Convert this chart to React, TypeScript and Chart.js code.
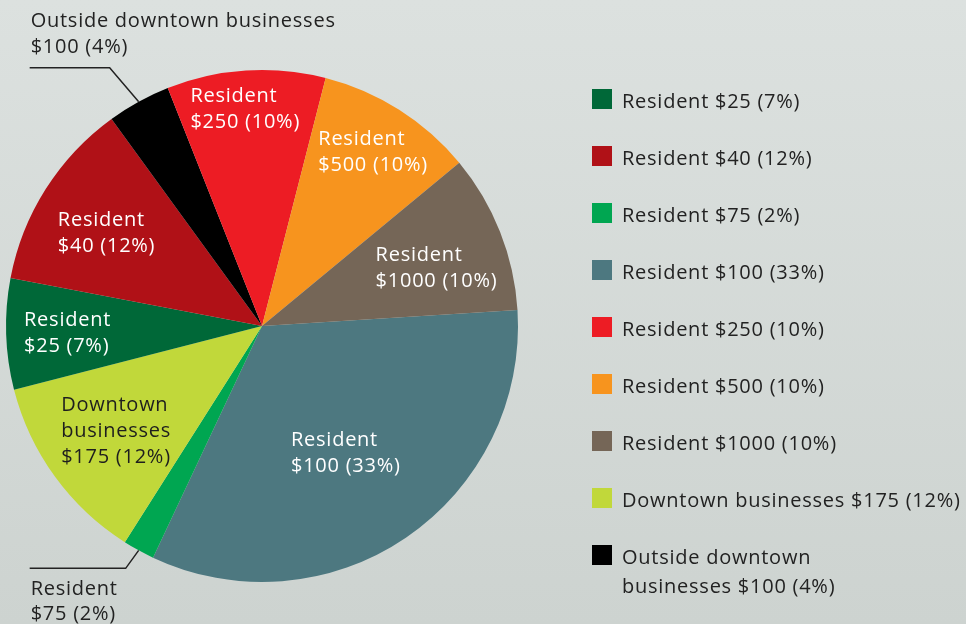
import React, { useEffect, useRef } from "react";
import { Chart, registerables } from "chart.js";

Chart.register(...registerables);

// Data in clockwise pie order (starting just above 3 o'clock)
const categories = [
  "Resident $100",
  "Resident $75",
  "Downtown businesses $175",
  "Resident $25",
  "Resident $40",
  "Outside downtown businesses $100",
  "Resident $250",
  "Resident $500",
  "Resident $1000",
];
const shares = [33, 2, 12, 7, 12, 4, 10, 10, 10];
const colors = [
  "#4d7880",
  "#00a651",
  "#c1d83a",
  "#006838",
  "#b01117",
  "#000000",
  "#ed1c24",
  "#f7941e",
  "#756657",
];
const sliceLabelLines = [
  ["Resident", "$100 (33%)"],
  ["Resident", "$75 (2%)"],
  ["Downtown", "businesses", "$175 (12%)"],
  ["Resident", "$25 (7%)"],
  ["Resident", "$40 (12%)"],
  ["Outside downtown businesses", "$100 (4%)"],
  ["Resident", "$250 (10%)"],
  ["Resident", "$500 (10%)"],
  ["Resident", "$1000 (10%)"],
];
// Legend order (indices into the arrays above)
const legendOrder = [3, 4, 1, 0, 6, 7, 8, 2, 5];
const legendLines = [
  ["Resident $100 (33%)"],
  ["Resident $75 (2%)"],
  ["Downtown businesses $175 (12%)"],
  ["Resident $25 (7%)"],
  ["Resident $40 (12%)"],
  ["Outside downtown", "businesses $100 (4%)"],
  ["Resident $250 (10%)"],
  ["Resident $500 (10%)"],
  ["Resident $1000 (10%)"],
];

// Label styling / placement (not data)
const FONT = '20px "Open Sans", sans-serif';
const LETTER = "0.75px";
const labelRadiusFrac = [0.59, 0, 0.7, 0.76, 0.71, 0, 0.855, 0.81, 0.72];
const labelAngleShift = [0.5, 0, 0.5, 0, -1.2, 0, -0.8, 0, 2.8];
const labelColor = ["#fff", "#222", "#1e1e1e", "#fff", "#fff", "#222", "#fff", "#fff", "#fff"];
// Outside callouts: elbow offset from slice edge, horizontal length, text baselines relative to elbow
const callouts: Record<number, { ex: number; ey: number; len: number; base: number[] }> = {
  5: { ex: -29, ey: -34, len: 80, base: [-41, -15] },
  1: { ex: -13, ey: 18, len: 96, base: [27, 52] },
};

const labelPlugin = {
  id: "sliceLabels",
  afterDatasetsDraw(chart: any) {
    const ctx: CanvasRenderingContext2D = chart.ctx;
    const meta = chart.getDatasetMeta(0);
    ctx.save();
    ctx.font = FONT;
    (ctx as any).letterSpacing = LETTER;
    ctx.textAlign = "left";
    ctx.textBaseline = "alphabetic";
    meta.data.forEach((arc: any, i: number) => {
      const p = arc.getProps(["x", "y", "startAngle", "endAngle", "outerRadius"], true);
      const mid = (p.startAngle + p.endAngle) / 2;
      const lines = sliceLabelLines[i];
      const co = callouts[i];
      if (co) {
        const ex = p.x + Math.cos(mid) * p.outerRadius;
        const ey = p.y + Math.sin(mid) * p.outerRadius;
        const bx = ex + co.ex;
        const by = ey + co.ey;
        ctx.strokeStyle = "#222";
        ctx.lineWidth = 1.5;
        ctx.beginPath();
        ctx.moveTo(ex, ey);
        ctx.lineTo(bx, by);
        ctx.lineTo(bx - co.len, by);
        ctx.stroke();
        ctx.fillStyle = labelColor[i];
        lines.forEach((t, j) => ctx.fillText(t, bx - co.len + 1, by + co.base[j]));
        return;
      }
      const a = mid + (labelAngleShift[i] * Math.PI) / 180;
      const r = p.outerRadius * labelRadiusFrac[i];
      const cx = p.x + Math.cos(a) * r;
      const cy = p.y + Math.sin(a) * r;
      const w = Math.max(...lines.map((t) => ctx.measureText(t).width));
      const lh = 26;
      const left = cx - w / 2;
      ctx.fillStyle = labelColor[i];
      lines.forEach((t, j) => {
        const baseline = cy + 7 + (j - (lines.length - 1) / 2) * lh;
        ctx.fillText(t, left, baseline);
      });
    });
    ctx.restore();
  },
};

export default function App() {
  const ref = useRef<HTMLCanvasElement | null>(null);

  useEffect(() => {
    document.body.style.margin = "0";
    const chart = new Chart(ref.current as HTMLCanvasElement, {
      type: "pie",
      data: {
        labels: categories,
        datasets: [
          {
            data: shares,
            backgroundColor: colors,
            borderWidth: 0,
          },
        ],
      },
      options: {
        animation: false,
        responsive: false,
        rotation: 86.4,
        layout: { padding: { left: 6, top: 70, right: 448, bottom: 42 } },
        plugins: { legend: { display: false }, tooltip: { enabled: false } },
      },
      plugins: [labelPlugin],
    });
    return () => chart.destroy();
  }, []);

  return (
    <div
      style={{
        position: "fixed",
        left: 0,
        top: 0,
        width: 966,
        height: 624,
        overflow: "hidden",
        background: "linear-gradient(180deg, #dce1df 0%, #cdd3d0 100%)",
        fontFamily: '"Open Sans", sans-serif',
      }}
    >
      <canvas ref={ref} width={966} height={624} style={{ position: "absolute", left: 0, top: 0 }} />
      <div style={{ position: "absolute", left: 592, top: 89 }}>
        {legendOrder.map((idx, k) => (
          <div key={k} style={{ position: "absolute", left: 0, top: k * 57, width: 370 }}>
            <div style={{ position: "absolute", left: 0, top: 0, width: 20, height: 20, background: colors[idx] }} />
            <div
              style={{
                position: "absolute",
                left: 30,
                top: -3,
                fontSize: 20,
                lineHeight: "29px",
                letterSpacing: LETTER,
                color: "#222",
                whiteSpace: "nowrap",
              }}
            >
              {legendLines[idx].map((t, j) => (
                <div key={j}>{t}</div>
              ))}
            </div>
          </div>
        ))}
      </div>
    </div>
  );
}
